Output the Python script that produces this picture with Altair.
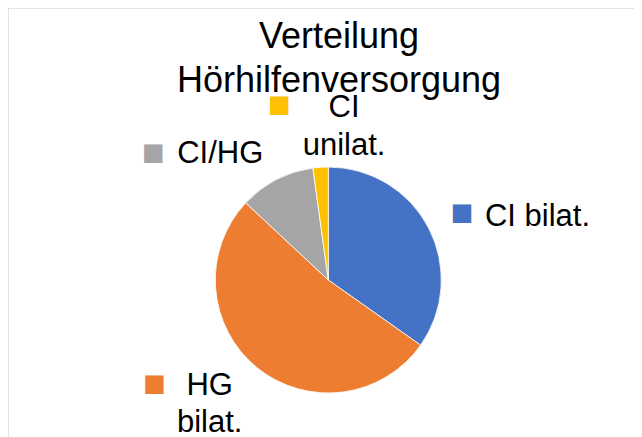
import altair as alt
import pandas as pd

# ---- data ----
labels = ["CI bilat.", "HG bilat.", "CI/HG", "CI unilat."]
counts = [16, 24, 5, 1]
label_text = ["CI bilat.", "HG\nbilat.", "CI/HG", "CI\nunilat."]
colors = ["#4472C4", "#ED7D31", "#A5A5A5", "#FFC000"]
title_lines = "Verteilung\nHörhilfenversorgung"

df = pd.DataFrame({
    "label": labels,
    "count": counts,
    "text": label_text,
    "idx": list(range(len(labels))),
})
total = sum(counts)

W, H = 626, 429
CX, CY = 320.3, 272
R_PIE = 113
R_LAB = 150
FONT = "Liberation Sans"

theta_scale = alt.Scale(domain=[0, total])
color_scale = alt.Scale(domain=labels, range=colors)

base = alt.Chart(df).encode(x=alt.value(CX), y=alt.value(CY))

pie = base.mark_arc(outerRadius=R_PIE, stroke="white", strokeWidth=0.8).encode(
    theta=alt.Theta("count:Q", stack=True, scale=theta_scale),
    color=alt.Color("label:N", scale=color_scale, legend=None),
    order=alt.Order("idx:Q"),
)

lab_base = base.transform_window(
    cum="sum(count)", sort=[alt.SortField("idx")], frame=[None, 0]
).transform_calculate(mid="datum.cum - datum.count / 2")

# label offsets (text dx, dy, square dx, dy) relative to the mid-angle anchor
offsets = {
    "CI bilat.": (76, 15, 0.5, 2),
    "HG bilat.": (-24, -1.4, -79, -12),
    "CI/HG": (-39, 16, -106, 6),
    "CI unilat.": (26, -13, -38.6, -25),
}

label_layers = []
for lab in labels:
    tdx, tdy, sdx, sdy = offsets[lab]
    filt = lab_base.transform_filter(alt.datum.label == lab)
    txt = filt.mark_text(
        font=FONT, fontSize=31, align="center", baseline="alphabetic",
        lineBreak="\n", lineHeight=37.5, color="#000000", dx=tdx, dy=tdy,
    ).encode(
        theta=alt.Theta("mid:Q", stack=False, scale=theta_scale),
        radius=alt.value(R_LAB),
        text="text:N",
    )
    sq = filt.mark_text(
        font="DejaVu Sans", fontSize=24, align="center", baseline="middle",
        dx=sdx, dy=sdy,
    ).encode(
        theta=alt.Theta("mid:Q", stack=False, scale=theta_scale),
        radius=alt.value(R_LAB),
        text=alt.value("\u25A0"),
        color=alt.Color("label:N", scale=color_scale, legend=None),
    )
    label_layers += [txt, sq]

title_df = pd.DataFrame({"title": [title_lines]})
title = alt.Chart(title_df).mark_text(
    font=FONT, fontSize=36, align="center", baseline="alphabetic",
    lineBreak="\n", lineHeight=44, color="#000000",
).encode(x=alt.value(331), y=alt.value(40), text="title:N")

one = pd.DataFrame({"k": [0]})
frame_top = alt.Chart(one).mark_rule(color="#D9D9D9", strokeWidth=1.5).encode(
    x=alt.value(0), x2=alt.value(W), y=alt.value(0)
)
frame_left = alt.Chart(one).mark_rule(color="#D9D9D9", strokeWidth=1.5).encode(
    x=alt.value(0), y=alt.value(0), y2=alt.value(H)
)

chart = alt.layer(frame_top, frame_left, pie, title, *label_layers).properties(
    width=W, height=H, autosize=alt.AutoSizeParams(type="none"), padding=0,
    background="white",
).configure_view(stroke=None)

chart.save("out.html", embed_options={"renderer": "svg", "actions": False})
